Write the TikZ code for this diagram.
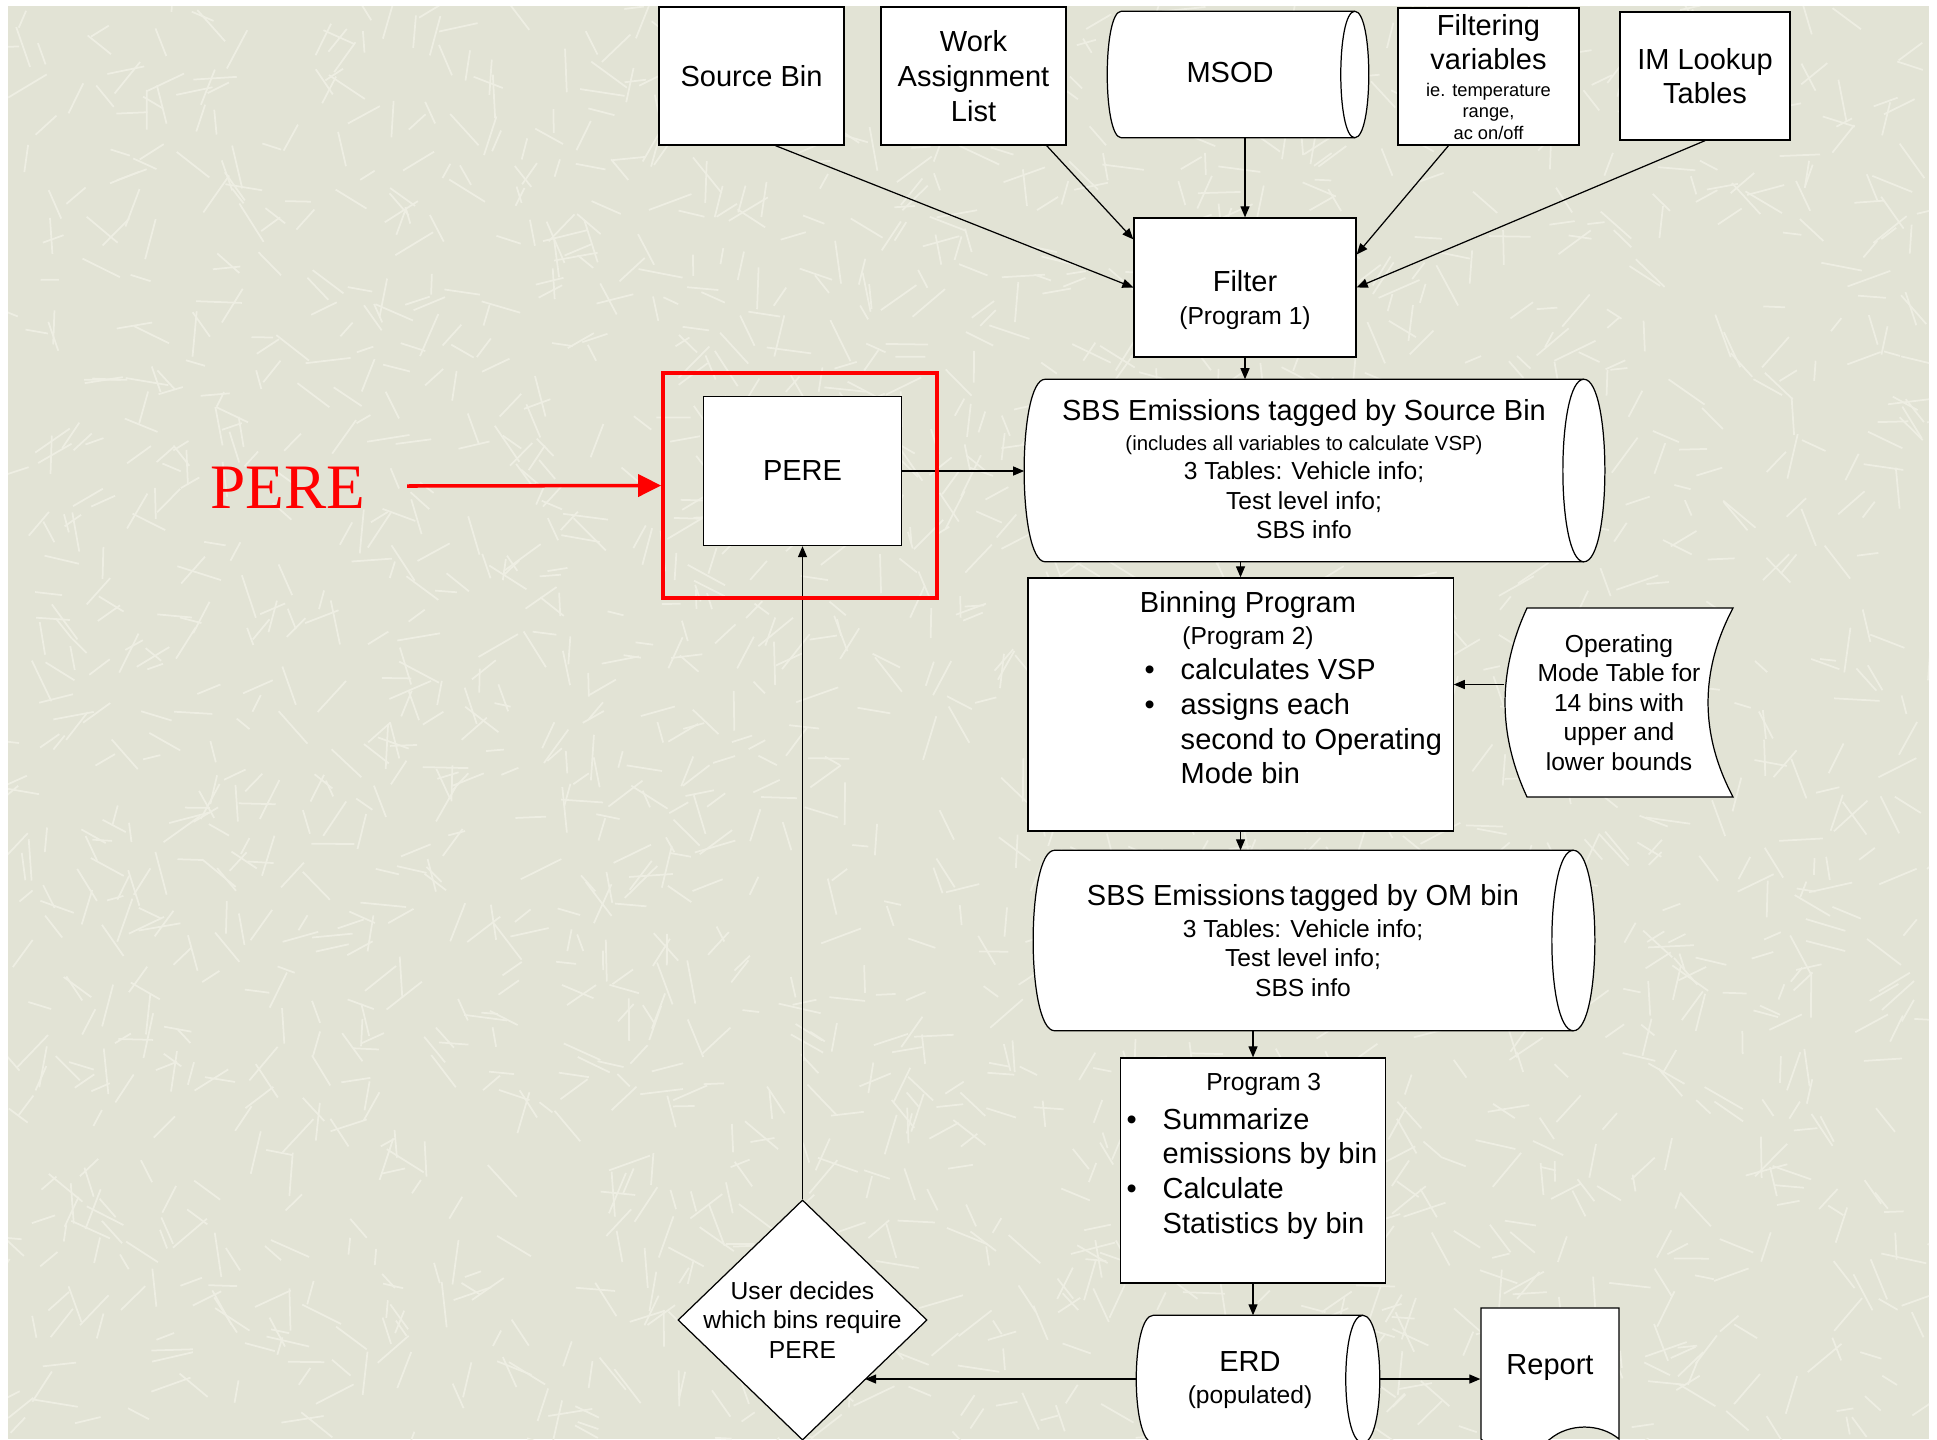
\documentclass[tikz,border=0pt]{standalone}
\usepackage{fontspec}
\setmainfont{Liberation Sans}
\newfontfamily\serifface{Liberation Serif}
\usepackage{xcolor}
\usepackage{tikz}
\usetikzlibrary{arrows.meta,shapes.geometric,shapes.symbols,positioning}

\definecolor{paper}{RGB}{226,227,213}
\definecolor{grain}{RGB}{238,238,227}
\newcommand{\bigsz}{\fontsize{8.25}{9.85}\selectfont}
\newcommand{\midsz}{\fontsize{7}{8.4}\selectfont}
\newcommand{\smlsz}{\fontsize{5.8}{7}\selectfont}
\newcommand{\tinysz}{\fontsize{5.2}{6.1}\selectfont}
\newcommand{\bul}{\makebox[0.36cm][l]{\textbullet}}
% outline of a stored data drum round the empty node #1, end radius #2
\newcommand{\drum}[2]{%
  \draw[fill=white, line width=0.35pt]
    ([xshift=#2]#1.north west) -- ([xshift=-#2]#1.north east)
    .. controls ([xshift=#2/3]#1.north east) and ([xshift=#2/3]#1.south east) .. ([xshift=-#2]#1.south east)
    -- ([xshift=#2]#1.south west)
    .. controls ([xshift=-#2/3]#1.south west) and ([xshift=-#2/3]#1.north west) .. cycle;
  \draw[line width=0.35pt]
    ([xshift=-#2]#1.north east) .. controls ([xshift=-#2*7/3]#1.north east) and ([xshift=-#2*7/3]#1.south east) .. ([xshift=-#2]#1.south east);}

\begin{document}
\begin{tikzpicture}[
    x=0.01cm, y=-0.01cm,
    box/.style={rectangle, draw, fill=white, line width=0.35pt, align=center, font=\bigsz, inner sep=1pt},
    frame/.style={rectangle, inner sep=0pt},
    txt/.style={inner sep=0pt, align=left, font=\bigsz},
    arrow/.style={-{Triangle[length=0.11cm,width=0.09cm]}, line width=0.35pt},
    redarrow/.style={-{Triangle[length=0.23cm,width=0.22cm]}, red, line width=1pt}
]
    \useasboundingbox (0,0) rectangle (1937,1439);
    \fill[paper] (8,6) rectangle (1929,1439);
    \begin{scope}
        \clip (8,6) rectangle (1929,1439);
        \pgfmathsetseed{11}
        \foreach \i in {1,...,2200} {
            \pgfmathsetmacro{\px}{8+1921*rnd}
            \pgfmathsetmacro{\py}{6+1433*rnd}
            \pgfmathsetmacro{\pa}{360*rnd}
            \pgfmathsetmacro{\pl}{16+30*rnd}
            \draw[grain, line width=0.5pt] (\px,\py) -- ++(\pa:\pl);
        }
    \end{scope}

    % inputs
    \node[box, minimum width=1.85cm, minimum height=1.38cm] (srcbin) at (751.5,76) {Source Bin};
    \node[box, minimum width=1.85cm, minimum height=1.38cm] (work) at (973.5,76) {Work\\Assignment\\List};
    \node[frame, minimum width=2.6cm, minimum height=1.25cm] (msod) at (1238,74.5) {};
    \drum{msod}{0.14cm}
    \node[txt] (msodtxt) at (1230,73) {MSOD};
    \node[box, minimum width=1.81cm, minimum height=1.37cm] (filtvar) at (1488.5,76.5) {};
    \node[txt, align=center] (filtvartxt) at (1488.5,80) {Filtering\\variables\\[-0.08cm]{\tinysz\begin{tabular}[t]{@{}c@{}}ie. temperature\\range,\\ac on/off\end{tabular}}};
    \node[box, minimum width=1.7cm, minimum height=1.28cm] (imtab) at (1705,76) {IM Lookup\\Tables};

    \node[box, minimum width=2.22cm, minimum height=1.39cm] (filter) at (1245,287.5) {};
    \node[txt, align=center] (filtertxt) at (1245,300) {Filter\\[-0.025cm]{\midsz (Program 1)}};
    \node[box, minimum width=1.98cm, minimum height=1.49cm] (pere) at (802.5,471) {PERE};

    \node[frame, minimum width=5.79cm, minimum height=1.81cm] (sbs1) at (1314.5,470.5) {};
    \drum{sbs1}{0.21cm}
    \node[txt, align=center, font=\midsz] (sbs1txt) at (1304,469.5) {{\bigsz SBS Emissions tagged by Source Bin}\\{\smlsz (includes all variables to calculate VSP)}\\3 Tables: Vehicle info;\\Test level info;\\SBS info};

    \node[box, minimum width=4.25cm, minimum height=2.53cm] (binning) at (1240.5,704.5) {};
    \node[txt, align=center] (binninghead) at (1248,620.5) {Binning Program\\[-0.025cm]{\midsz (Program 2)}};
    \node[txt, anchor=west] (binninglist) at (1144,721.5) {\bul calculates VSP\\\bul assigns each\\\hspace*{0.36cm}second to Operating\\\hspace*{0.36cm}Mode bin};

    % stored data outline
    \draw[fill=white, line width=0.35pt] (1527,608) -- (1733,608)
        .. controls (1699.7,671) and (1699.7,734) .. (1733,797) -- (1527,797)
        .. controls (1497.7,734) and (1497.7,671) .. cycle;
    \node[txt, align=center, font=\midsz, minimum width=2.28cm, minimum height=1.89cm] (opmode) at (1619,702.5) {Operating\\Mode Table for\\14 bins with\\upper and\\lower bounds};

    \node[frame, minimum width=5.6cm, minimum height=1.79cm] (sbs2) at (1314,940.5) {};
    \drum{sbs2}{0.215cm}
    \node[txt, align=center, font=\midsz] (sbs2txt) at (1303,940.5) {{\bigsz SBS Emissions\,tagged by OM bin}\\[0.025cm]3 Tables: Vehicle info;\\Test level info;\\SBS info};

    \node[box, minimum width=2.65cm, minimum height=2.25cm] (prog3) at (1253,1170.5) {};
    \node[txt, font=\midsz] (prog3head) at (1263.7,1084.7) {Program 3};
    \node[txt, anchor=west] (prog3list) at (1126,1173.7) {\bul Summarize\\\hspace*{0.36cm}emissions by bin\\\bul Calculate\\\hspace*{0.36cm}Statistics by bin};

    \node[frame, minimum width=2.42cm, minimum height=1.26cm] (erd) at (1258,1379) {};
    \drum{erd}{0.17cm}
    \node[txt, align=center, font=\midsz] (erdtxt) at (1250,1380) {{\bigsz ERD}\\[0.025cm](populated)};
    \node[tape, draw, fill=white, line width=0.35pt, tape bend top=none, tape bend bottom=in and out, tape bend height=0.24cm, minimum width=1.38cm, minimum height=1.43cm, font=\bigsz] (report) at (1550,1367.5) {Report};

    \node[diamond, draw, fill=white, line width=0.35pt, minimum width=2.49cm, minimum height=2.4cm, inner sep=0pt] (decide) at (802.5,1320) {};
    \node[txt, align=center, font=\midsz] (decidetxt) at (decide) {User decides\\which bins require\\PERE};

    \draw[arrow] ([xshift=0.24cm]srcbin.south) -- (filter.west);
    \draw[arrow] ([xshift=-0.2cm]work.south east) -- ([yshift=-0.22cm]filter.north west);
    \draw[arrow] (msod.south -| filter.north) -- (filter.north);
    \draw[arrow] ([xshift=-0.4cm]filtvar.south) -- ([yshift=0.33cm]filter.east);
    \draw[arrow] (imtab.south) -- (filter.east);
    \draw[arrow] (filter.south) -- (filter.south |- sbs1.north);
    \draw[arrow] (pere.east) -- (pere.east -| sbs1.west);
    \draw[arrow] (binning.north |- sbs1.south) -- (binning.north);
    \draw[arrow] ([yshift=0.18cm]opmode.west) -- ([yshift=0.18cm]opmode.west -| binning.east);
    \draw[arrow] (binning.south) -- (binning.south |- sbs2.north);
    \draw[arrow] (prog3.north |- sbs2.south) -- (prog3.north);
    \draw[arrow] (prog3.south) -- (prog3.south |- erd.north);
    \draw[arrow] (erd.west) -- (erd.west -| decide.south east);
    \draw[arrow] (erd.east) -- (erd.east -| report.west);
    \draw[arrow] (decide.north) -- (pere.south);

    % highlight
    \node[font=\serifface\fontsize{18}{20}\selectfont, text=red, inner sep=0pt] (perelabel) at (288,488) {PERE};
    \node[draw=red, line width=1pt, minimum width=2.74cm, minimum height=2.25cm] (hilite) at (800,485.5) {};
    \coordinate (redtail) at (407,486);
    \draw[redarrow] (redtail) -- (hilite.west);
\end{tikzpicture}
\end{document}
